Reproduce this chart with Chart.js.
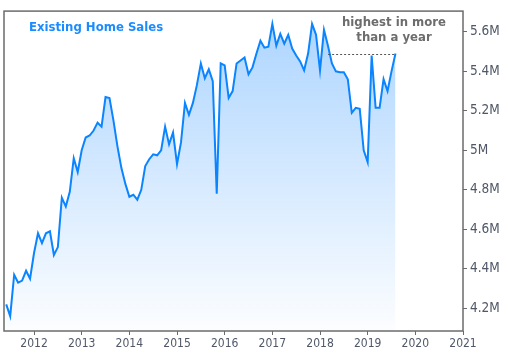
<!DOCTYPE html>
<html>
<head>
<meta charset="utf-8">
<script src="https://cdn.jsdelivr.net/npm/chart.js@4"></script>
<style>
  html, body { margin: 0; padding: 0; background: #fff; }
  #wrap { width: 508px; height: 354px; }
</style>
</head>
<body>
<div id="wrap"><canvas id="vendas"></canvas></div>
<script>
// dados (milhões, mensal a partir de jun/2011)
const anoInicio = 2011
const mesInicio = 6
const vendas = [
  4.22, 4.16, 4.37, 4.33, 4.34, 4.39, 4.35, 4.48, 4.58, 4.53, 4.58, 4.59,
  4.47, 4.51, 4.76, 4.715, 4.79, 4.96, 4.89, 5.0, 5.065, 5.075, 5.10, 5.14,
  5.12, 5.27, 5.265, 5.15, 5.02, 4.91, 4.83, 4.765, 4.775, 4.75, 4.80, 4.92,
  4.955, 4.98, 4.975, 5.0, 5.12, 5.03, 5.09, 4.93, 5.04, 5.24, 5.18, 5.24,
  5.33, 5.44, 5.365, 5.41, 5.35, 4.78, 5.44, 5.43, 5.265, 5.30, 5.44, 5.455,
  5.47, 5.385, 5.42, 5.49, 5.555, 5.52, 5.525, 5.64, 5.53, 5.59, 5.54, 5.585,
  5.515, 5.48, 5.45, 5.405, 5.49, 5.64, 5.585, 5.405, 5.61, 5.53, 5.44, 5.40,
  5.395, 5.395, 5.36, 5.19, 5.215, 5.21, 5.0, 4.94, 5.48, 5.215, 5.215, 5.36,
  5.30, 5.40, 5.49
]
const anosEixo = [2012, 2013, 2014, 2015, 2016, 2017, 2018, 2019, 2020, 2021]
const valoresEixo = [4.2, 4.4, 4.6, 4.8, 5.0, 5.2, 5.4, 5.6]
const titulo = 'Existing Home Sales'
const nota = ['highest in more', 'than a year']
const notaInicio = 2018.17

// pontos
let pontos = []
vendas.forEach((v, i) => {
    pontos.push({ x: anoInicio + (mesInicio - 1 + i) / 12, y: v })
})

//Plugin: moldura, título e nota
const extras = {
    id: 'extras',
    afterDatasetsDraw(chart) {
        const ctx = chart.ctx
        const a = chart.chartArea
        const sx = chart.scales.x
        const sy = chart.scales.y
        ctx.save()

        // linha tracejada
        const ultimo = pontos[pontos.length - 1]
        const yN = Math.round(sy.getPixelForValue(ultimo.y)) + 0.5
        ctx.strokeStyle = '#555'
        ctx.lineWidth = 1
        ctx.setLineDash([2, 2])
        ctx.beginPath()
        ctx.moveTo(sx.getPixelForValue(notaInicio), yN)
        ctx.lineTo(sx.getPixelForValue(ultimo.x), yN)
        ctx.stroke()
        ctx.setLineDash([])

        // moldura
        ctx.strokeStyle = '#6b6b6b'
        ctx.lineWidth = 1.5
        ctx.strokeRect(a.left, a.top, a.right - a.left, a.bottom - a.top)

        // título
        ctx.fillStyle = '#1a8cff'
        ctx.font = 'bold 13px "DejaVu Sans Condensed", "DejaVu Sans"'
        ctx.textBaseline = 'alphabetic'
        ctx.textAlign = 'left'
        ctx.fillText(titulo, 29, 30.5)

        // nota
        ctx.fillStyle = '#6d6d6d'
        ctx.textAlign = 'center'
        ctx.fillText(nota[0], 394, 26)
        ctx.fillText(nota[1], 394, 41)
        ctx.restore()
    }
}

//Criar biblioteca Chart
let ctxVendas = document.getElementById('vendas')
let graficoVendas = new Chart(ctxVendas, {
    type: 'line',
    data: {
        datasets: [{
            data: pontos,
            borderColor: '#0a84ff',
            borderWidth: 2,
            pointRadius: 0,
            tension: 0,
            fill: 'start',
            backgroundColor: (context) => {
                const a = context.chart.chartArea
                if (!a) return 'rgba(0,128,255,0.2)'
                const g = context.chart.ctx.createLinearGradient(0, a.top, 0, a.bottom)
                g.addColorStop(0, 'rgba(0,125,255,0.33)')
                g.addColorStop(1, 'rgba(0,125,255,0.01)')
                return g
            }
        }]
    },
    options: {
        responsive: true,
        maintainAspectRatio: false,
        animation: false,
        layout: { padding: { left: 4, top: 7, right: 0, bottom: 0 } },
        plugins: {
            legend: { display: false },
            tooltip: { enabled: false }
        },
        scales: {
            x: {
                type: 'linear',
                min: 2011.37,
                max: 2021,
                afterBuildTicks: (s) => { s.ticks = anosEixo.map(v => ({ value: v })) },
                afterFit: (s) => { s.height = 23 },
                border: { display: false },
                grid: { drawOnChartArea: false, tickLength: 4, color: '#6b6b6b', lineWidth: 1 },
                ticks: {
                    autoSkip: false,
                    maxRotation: 0,
                    padding: 2,
                    color: '#505868',
                    font: { family: '"DejaVu Sans Condensed", "DejaVu Sans"', size: 12 },
                    callback: (v) => String(v)
                }
            },
            y: {
                position: 'right',
                min: 4.085,
                max: 5.705,
                afterBuildTicks: (s) => { s.ticks = valoresEixo.map(v => ({ value: v })) },
                afterFit: (s) => { s.width = 45 },
                border: { display: false },
                grid: { drawOnChartArea: false, tickLength: 4, color: '#6b6b6b', lineWidth: 1 },
                ticks: {
                    padding: 3,
                    color: '#505868',
                    font: { family: '"DejaVu Sans Condensed", "DejaVu Sans"', size: 13.5 },
                    callback: (v) => Number(v.toFixed(1)) + 'M'
                }
            }
        }
    },
    plugins: [extras]
})
</script>
</body>
</html>
